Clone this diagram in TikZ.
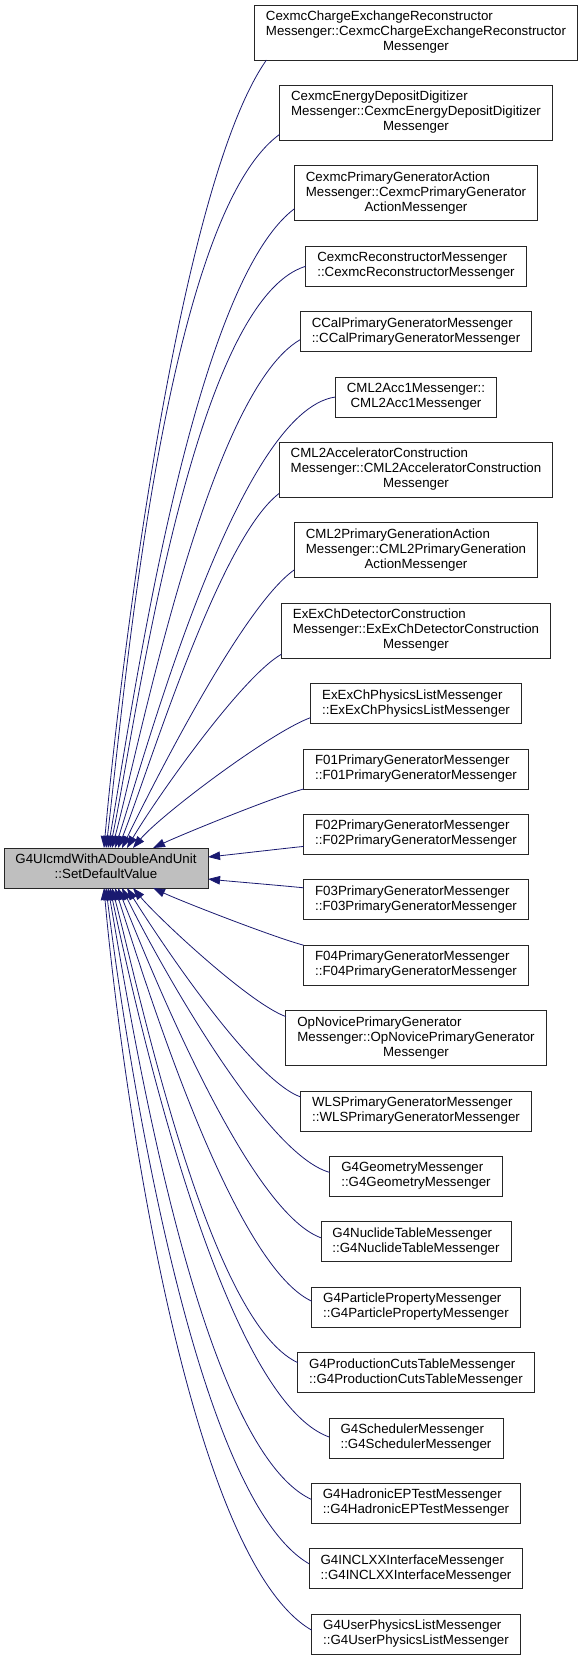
\documentclass[tikz,border=0pt]{standalone}
\usepackage{fontspec}
\setmainfont{Liberation Sans}
\usetikzlibrary{arrows.meta,positioning}

\definecolor{edgeblue}{HTML}{191970}
\definecolor{fngray}{HTML}{BFBFBF}

\newcommand{\twoln}[2]{\begin{tabular}{@{}l@{}}#1\\\multicolumn{1}{@{}c@{}}{#2}\end{tabular}}
\newcommand{\threeln}[3]{\begin{tabular}{@{}l@{}}#1\\#2\\\multicolumn{1}{@{}c@{}}{#3}\end{tabular}}

\begin{document}
\begin{tikzpicture}[x=1pt,y=1pt,>={Triangle[length=12pt,width=8.5pt]},node distance=25.4pt,
	every node/.style={font=\fontsize{13.3}{15}\selectfont},
	caller/.style={draw=black!85,line width=0.8pt,fill=white,minimum height=40pt,inner xsep=11.5pt,inner ysep=3pt,outer sep=0pt},
	tall/.style={minimum height=55pt},
	fn/.style={caller,fill=fngray},
	call/.style={->,edgeblue,line width=0.8pt,looseness=.5}]
			\useasboundingbox (0,0) rectangle (581,-1660);
			\node[fn] (sdv) at (106,-868) {\twoln{G4UIcmdWithADoubleAndUnit}{::SetDefaultValue}};
			\node[caller,tall] (c_1) at (416,-32.5) {\threeln{CexmcChargeExchangeReconstructor}{Messenger::CexmcChargeExchangeReconstructor}{Messenger}};
			\node[caller,tall] [below=of c_1] (c_2) {\threeln{CexmcEnergyDepositDigitizer}{Messenger::CexmcEnergyDepositDigitizer}{Messenger}};
			\node[caller,tall] [below=of c_2] (c_3) {\threeln{CexmcPrimaryGeneratorAction}{Messenger::CexmcPrimaryGenerator}{ActionMessenger}};
			\node[caller] [below=of c_3] (c_4) {\twoln{CexmcReconstructorMessenger}{::CexmcReconstructorMessenger}};
			\node[caller] [below=of c_4] (c_5) {\twoln{CCalPrimaryGeneratorMessenger}{::CCalPrimaryGeneratorMessenger}};
			\node[caller] [below=of c_5] (c_6) {\twoln{CML2Acc1Messenger::}{CML2Acc1Messenger}};
			\node[caller,tall] [below=of c_6] (c_7) {\threeln{CML2AcceleratorConstruction}{Messenger::CML2AcceleratorConstruction}{Messenger}};
			\node[caller,tall] [below=of c_7] (c_8) {\threeln{CML2PrimaryGenerationAction}{Messenger::CML2PrimaryGeneration}{ActionMessenger}};
			\node[caller,tall] [below=of c_8] (c_9) {\threeln{ExExChDetectorConstruction}{Messenger::ExExChDetectorConstruction}{Messenger}};
			\node[caller] [below=of c_9] (c_10) {\twoln{ExExChPhysicsListMessenger}{::ExExChPhysicsListMessenger}};
			\node[caller] [below=of c_10] (c_11) {\twoln{F01PrimaryGeneratorMessenger}{::F01PrimaryGeneratorMessenger}};
			\node[caller] [below=of c_11] (c_12) {\twoln{F02PrimaryGeneratorMessenger}{::F02PrimaryGeneratorMessenger}};
			\node[caller] [below=of c_12] (c_13) {\twoln{F03PrimaryGeneratorMessenger}{::F03PrimaryGeneratorMessenger}};
			\node[caller] [below=of c_13] (c_14) {\twoln{F04PrimaryGeneratorMessenger}{::F04PrimaryGeneratorMessenger}};
			\node[caller,tall] [below=of c_14] (c_15) {\threeln{OpNovicePrimaryGenerator}{Messenger::OpNovicePrimaryGenerator}{Messenger}};
			\node[caller] [below=of c_15] (c_16) {\twoln{WLSPrimaryGeneratorMessenger}{::WLSPrimaryGeneratorMessenger}};
			\node[caller] [below=of c_16] (c_17) {\twoln{G4GeometryMessenger}{::G4GeometryMessenger}};
			\node[caller] [below=of c_17] (c_18) {\twoln{G4NuclideTableMessenger}{::G4NuclideTableMessenger}};
			\node[caller] [below=of c_18] (c_19) {\twoln{G4ParticlePropertyMessenger}{::G4ParticlePropertyMessenger}};
			\node[caller] [below=of c_19] (c_20) {\twoln{G4ProductionCutsTableMessenger}{::G4ProductionCutsTableMessenger}};
			\node[caller] [below=of c_20] (c_21) {\twoln{G4SchedulerMessenger}{::G4SchedulerMessenger}};
			\node[caller] [below=of c_21] (c_22) {\twoln{G4HadronicEPTestMessenger}{::G4HadronicEPTestMessenger}};
			\node[caller] [below=of c_22] (c_23) {\twoln{G4INCLXXInterfaceMessenger}{::G4INCLXXInterfaceMessenger}};
			\node[caller] [below=of c_23] (c_24) {\twoln{G4UserPhysicsListMessenger}{::G4UserPhysicsListMessenger}};
			\path[call]
				([xshift=12pt]c_1.south west) edge [out=235,in=85] ([xshift=-2pt]sdv.north)
				([yshift=6pt]c_2.south west) edge [out=216,in=83] (sdv.north)
				([yshift=12pt]c_3.south west) edge [out=217,in=80] ([xshift=2pt]sdv.north)
				(c_4.west) edge [out=197,in=78] ([xshift=4pt]sdv.north)
				([yshift=12pt]c_5.south west) edge [out=210,in=75] ([xshift=6pt]sdv.north)
				(c_6.west) edge [out=188,in=72] ([xshift=9pt]sdv.north)
				([yshift=4pt]c_7.south west) edge [out=217,in=68] ([xshift=12pt]sdv.north)
				([yshift=8pt]c_8.south west) edge [out=215,in=64] ([xshift=16pt]sdv.north)
				([yshift=4pt]c_9.south west) edge [out=210,in=60] ([xshift=21pt]sdv.north)
				([yshift=6pt]c_10.south west) edge [out=200,in=50] ([xshift=27pt]sdv.north)
				(c_11.south west) edge [out=195,in=25] ([xshift=47pt]sdv.north)
				([yshift=8pt]c_12.south west) edge [out=186,in=6] ([yshift=11pt]sdv.east)
				([yshift=-8pt]c_13.north west) edge [out=174,in=-6] ([yshift=-11pt]sdv.east)
				(c_14.north west) edge [out=165,in=-25] ([xshift=47pt]sdv.south)
				([yshift=-6pt]c_15.north west) edge [out=160,in=-50] ([xshift=27pt]sdv.south)
				([yshift=-6pt]c_16.north west) edge [out=160,in=-58] ([xshift=21pt]sdv.south)
				([yshift=-16pt]c_17.north west) edge [out=165,in=-64] ([xshift=16pt]sdv.south)
				([yshift=-16pt]c_18.north west) edge [out=160,in=-68] ([xshift=12pt]sdv.south)
				([yshift=-14pt]c_19.north west) edge [out=155,in=-72] ([xshift=9pt]sdv.south)
				([yshift=-10pt]c_20.north west) edge [out=155,in=-75] ([xshift=6pt]sdv.south)
				([yshift=-19pt]c_21.north west) edge [out=160,in=-78] ([xshift=4pt]sdv.south)
				([yshift=-16pt]c_22.north west) edge [out=155,in=-80] ([xshift=2pt]sdv.south)
				([yshift=-15pt]c_23.north west) edge [out=150,in=-83] (sdv.south)
				([yshift=-16pt]c_24.north west) edge [out=150,in=-85] ([xshift=-2pt]sdv.south);
		\end{tikzpicture}
\end{document}
